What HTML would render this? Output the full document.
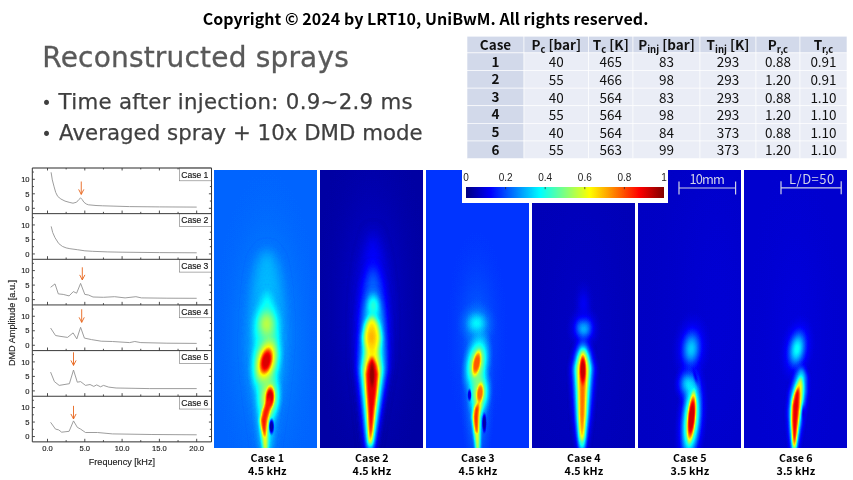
<!DOCTYPE html>
<html><head><meta charset="utf-8"><title>Reconstructed sprays</title>
<style>
html,body{margin:0;padding:0;background:#fff;width:853px;height:480px;overflow:hidden}
svg{display:block;position:absolute;left:0;top:0}
svg{font-family:"Liberation Sans",sans-serif}
.ar{font-family:"Liberation Sans",sans-serif}
.vd{font-family:"DejaVu Sans","Liberation Sans",sans-serif}
.mg{font-family:"Noto Sans CJK KR","Liberation Sans",sans-serif}
</style></head><body>
<svg width="853" height="480" viewBox="0 0 853 480">
<defs><filter id="jet" color-interpolation-filters="sRGB" x="0" y="0" width="100%" height="100%" filterUnits="objectBoundingBox"><feComponentTransfer><feFuncR type="table" tableValues="0 0 0 0 0.5 1 1 1 0.5"/><feFuncG type="table" tableValues="0 0 0.5 1 1 1 0.5 0 0"/><feFuncB type="table" tableValues="0.5 1 1 1 0.5 0 0 0 0"/></feComponentTransfer></filter><filter id="bl1_0" filterUnits="userSpaceOnUse" x="-60" y="-60" width="240" height="420" color-interpolation-filters="sRGB"><feGaussianBlur stdDeviation="1"/></filter><filter id="bl1_1" filterUnits="userSpaceOnUse" x="-60" y="-60" width="240" height="420" color-interpolation-filters="sRGB"><feGaussianBlur stdDeviation="1.1"/></filter><filter id="bl1_2" filterUnits="userSpaceOnUse" x="-60" y="-60" width="240" height="420" color-interpolation-filters="sRGB"><feGaussianBlur stdDeviation="1.2"/></filter><filter id="bl1_4" filterUnits="userSpaceOnUse" x="-60" y="-60" width="240" height="420" color-interpolation-filters="sRGB"><feGaussianBlur stdDeviation="1.4"/></filter><filter id="bl1_6" filterUnits="userSpaceOnUse" x="-60" y="-60" width="240" height="420" color-interpolation-filters="sRGB"><feGaussianBlur stdDeviation="1.6"/></filter><filter id="bl1_8" filterUnits="userSpaceOnUse" x="-60" y="-60" width="240" height="420" color-interpolation-filters="sRGB"><feGaussianBlur stdDeviation="1.8"/></filter><filter id="bl2" filterUnits="userSpaceOnUse" x="-60" y="-60" width="240" height="420" color-interpolation-filters="sRGB"><feGaussianBlur stdDeviation="2"/></filter><filter id="bl2_5" filterUnits="userSpaceOnUse" x="-60" y="-60" width="240" height="420" color-interpolation-filters="sRGB"><feGaussianBlur stdDeviation="2.5"/></filter><filter id="bl2_8" filterUnits="userSpaceOnUse" x="-60" y="-60" width="240" height="420" color-interpolation-filters="sRGB"><feGaussianBlur stdDeviation="2.8"/></filter><filter id="bl3" filterUnits="userSpaceOnUse" x="-60" y="-60" width="240" height="420" color-interpolation-filters="sRGB"><feGaussianBlur stdDeviation="3"/></filter><filter id="bl3_5" filterUnits="userSpaceOnUse" x="-60" y="-60" width="240" height="420" color-interpolation-filters="sRGB"><feGaussianBlur stdDeviation="3.5"/></filter><filter id="bl4_5" filterUnits="userSpaceOnUse" x="-60" y="-60" width="240" height="420" color-interpolation-filters="sRGB"><feGaussianBlur stdDeviation="4.5"/></filter><filter id="bl5_5" filterUnits="userSpaceOnUse" x="-60" y="-60" width="240" height="420" color-interpolation-filters="sRGB"><feGaussianBlur stdDeviation="5.5"/></filter><filter id="bl6" filterUnits="userSpaceOnUse" x="-60" y="-60" width="240" height="420" color-interpolation-filters="sRGB"><feGaussianBlur stdDeviation="6"/></filter><radialGradient id="g0"><stop offset="0" stop-color="#444444" stop-opacity="1"/><stop offset="0.1" stop-color="#444444" stop-opacity="0.96336"/><stop offset="0.2" stop-color="#444444" stop-opacity="0.866732"/><stop offset="0.3" stop-color="#444444" stop-opacity="0.727499"/><stop offset="0.4" stop-color="#444444" stop-opacity="0.568663"/><stop offset="0.5" stop-color="#444444" stop-opacity="0.412534"/><stop offset="0.6" stop-color="#444444" stop-opacity="0.275748"/><stop offset="0.7" stop-color="#444444" stop-opacity="0.16703"/><stop offset="0.8" stop-color="#444444" stop-opacity="0.0877187"/><stop offset="0.9" stop-color="#444444" stop-opacity="0.0340698"/><stop offset="1" stop-color="#444444" stop-opacity="0"/></radialGradient><radialGradient id="g1"><stop offset="0" stop-color="#7a7a7a" stop-opacity="1"/><stop offset="0.1" stop-color="#7a7a7a" stop-opacity="0.96336"/><stop offset="0.2" stop-color="#7a7a7a" stop-opacity="0.866732"/><stop offset="0.3" stop-color="#7a7a7a" stop-opacity="0.727499"/><stop offset="0.4" stop-color="#7a7a7a" stop-opacity="0.568663"/><stop offset="0.5" stop-color="#7a7a7a" stop-opacity="0.412534"/><stop offset="0.6" stop-color="#7a7a7a" stop-opacity="0.275748"/><stop offset="0.7" stop-color="#7a7a7a" stop-opacity="0.16703"/><stop offset="0.8" stop-color="#7a7a7a" stop-opacity="0.0877187"/><stop offset="0.9" stop-color="#7a7a7a" stop-opacity="0.0340698"/><stop offset="1" stop-color="#7a7a7a" stop-opacity="0"/></radialGradient><radialGradient id="g2"><stop offset="0" stop-color="#8e8e8e" stop-opacity="1"/><stop offset="0.1" stop-color="#8e8e8e" stop-opacity="0.96336"/><stop offset="0.2" stop-color="#8e8e8e" stop-opacity="0.866732"/><stop offset="0.3" stop-color="#8e8e8e" stop-opacity="0.727499"/><stop offset="0.4" stop-color="#8e8e8e" stop-opacity="0.568663"/><stop offset="0.5" stop-color="#8e8e8e" stop-opacity="0.412534"/><stop offset="0.6" stop-color="#8e8e8e" stop-opacity="0.275748"/><stop offset="0.7" stop-color="#8e8e8e" stop-opacity="0.16703"/><stop offset="0.8" stop-color="#8e8e8e" stop-opacity="0.0877187"/><stop offset="0.9" stop-color="#8e8e8e" stop-opacity="0.0340698"/><stop offset="1" stop-color="#8e8e8e" stop-opacity="0"/></radialGradient><radialGradient id="g3"><stop offset="0" stop-color="#a8a8a8" stop-opacity="1"/><stop offset="0.1" stop-color="#a8a8a8" stop-opacity="0.96336"/><stop offset="0.2" stop-color="#a8a8a8" stop-opacity="0.866732"/><stop offset="0.3" stop-color="#a8a8a8" stop-opacity="0.727499"/><stop offset="0.4" stop-color="#a8a8a8" stop-opacity="0.568663"/><stop offset="0.5" stop-color="#a8a8a8" stop-opacity="0.412534"/><stop offset="0.6" stop-color="#a8a8a8" stop-opacity="0.275748"/><stop offset="0.7" stop-color="#a8a8a8" stop-opacity="0.16703"/><stop offset="0.8" stop-color="#a8a8a8" stop-opacity="0.0877187"/><stop offset="0.9" stop-color="#a8a8a8" stop-opacity="0.0340698"/><stop offset="1" stop-color="#a8a8a8" stop-opacity="0"/></radialGradient><radialGradient id="g4"><stop offset="0" stop-color="#c7c7c7" stop-opacity="1"/><stop offset="0.1" stop-color="#c7c7c7" stop-opacity="0.96336"/><stop offset="0.2" stop-color="#c7c7c7" stop-opacity="0.866732"/><stop offset="0.3" stop-color="#c7c7c7" stop-opacity="0.727499"/><stop offset="0.4" stop-color="#c7c7c7" stop-opacity="0.568663"/><stop offset="0.5" stop-color="#c7c7c7" stop-opacity="0.412534"/><stop offset="0.6" stop-color="#c7c7c7" stop-opacity="0.275748"/><stop offset="0.7" stop-color="#c7c7c7" stop-opacity="0.16703"/><stop offset="0.8" stop-color="#c7c7c7" stop-opacity="0.0877187"/><stop offset="0.9" stop-color="#c7c7c7" stop-opacity="0.0340698"/><stop offset="1" stop-color="#c7c7c7" stop-opacity="0"/></radialGradient><radialGradient id="f5"><stop offset="0" stop-color="#e8e8e8" stop-opacity="1"/><stop offset="0.35" stop-color="#e8e8e8" stop-opacity="1"/><stop offset="0.5" stop-color="#e8e8e8" stop-opacity="0.85"/><stop offset="0.65" stop-color="#e8e8e8" stop-opacity="0.55"/><stop offset="0.8" stop-color="#e8e8e8" stop-opacity="0.25"/><stop offset="0.9" stop-color="#e8e8e8" stop-opacity="0.09"/><stop offset="1" stop-color="#e8e8e8" stop-opacity="0"/></radialGradient><radialGradient id="f6"><stop offset="0" stop-color="#ebebeb" stop-opacity="1"/><stop offset="0.35" stop-color="#ebebeb" stop-opacity="1"/><stop offset="0.5" stop-color="#ebebeb" stop-opacity="0.85"/><stop offset="0.65" stop-color="#ebebeb" stop-opacity="0.55"/><stop offset="0.8" stop-color="#ebebeb" stop-opacity="0.25"/><stop offset="0.9" stop-color="#ebebeb" stop-opacity="0.09"/><stop offset="1" stop-color="#ebebeb" stop-opacity="0"/></radialGradient><radialGradient id="f7"><stop offset="0" stop-color="#0a0a0a" stop-opacity="1"/><stop offset="0.35" stop-color="#0a0a0a" stop-opacity="1"/><stop offset="0.5" stop-color="#0a0a0a" stop-opacity="0.85"/><stop offset="0.65" stop-color="#0a0a0a" stop-opacity="0.55"/><stop offset="0.8" stop-color="#0a0a0a" stop-opacity="0.25"/><stop offset="0.9" stop-color="#0a0a0a" stop-opacity="0.09"/><stop offset="1" stop-color="#0a0a0a" stop-opacity="0"/></radialGradient><radialGradient id="g8"><stop offset="0" stop-color="#141414" stop-opacity="1"/><stop offset="0.1" stop-color="#141414" stop-opacity="0.96336"/><stop offset="0.2" stop-color="#141414" stop-opacity="0.866732"/><stop offset="0.3" stop-color="#141414" stop-opacity="0.727499"/><stop offset="0.4" stop-color="#141414" stop-opacity="0.568663"/><stop offset="0.5" stop-color="#141414" stop-opacity="0.412534"/><stop offset="0.6" stop-color="#141414" stop-opacity="0.275748"/><stop offset="0.7" stop-color="#141414" stop-opacity="0.16703"/><stop offset="0.8" stop-color="#141414" stop-opacity="0.0877187"/><stop offset="0.9" stop-color="#141414" stop-opacity="0.0340698"/><stop offset="1" stop-color="#141414" stop-opacity="0"/></radialGradient><radialGradient id="g9"><stop offset="0" stop-color="#696969" stop-opacity="1"/><stop offset="0.1" stop-color="#696969" stop-opacity="0.96336"/><stop offset="0.2" stop-color="#696969" stop-opacity="0.866732"/><stop offset="0.3" stop-color="#696969" stop-opacity="0.727499"/><stop offset="0.4" stop-color="#696969" stop-opacity="0.568663"/><stop offset="0.5" stop-color="#696969" stop-opacity="0.412534"/><stop offset="0.6" stop-color="#696969" stop-opacity="0.275748"/><stop offset="0.7" stop-color="#696969" stop-opacity="0.16703"/><stop offset="0.8" stop-color="#696969" stop-opacity="0.0877187"/><stop offset="0.9" stop-color="#696969" stop-opacity="0.0340698"/><stop offset="1" stop-color="#696969" stop-opacity="0"/></radialGradient><radialGradient id="g10"><stop offset="0" stop-color="#b2b2b2" stop-opacity="1"/><stop offset="0.1" stop-color="#b2b2b2" stop-opacity="0.96336"/><stop offset="0.2" stop-color="#b2b2b2" stop-opacity="0.866732"/><stop offset="0.3" stop-color="#b2b2b2" stop-opacity="0.727499"/><stop offset="0.4" stop-color="#b2b2b2" stop-opacity="0.568663"/><stop offset="0.5" stop-color="#b2b2b2" stop-opacity="0.412534"/><stop offset="0.6" stop-color="#b2b2b2" stop-opacity="0.275748"/><stop offset="0.7" stop-color="#b2b2b2" stop-opacity="0.16703"/><stop offset="0.8" stop-color="#b2b2b2" stop-opacity="0.0877187"/><stop offset="0.9" stop-color="#b2b2b2" stop-opacity="0.0340698"/><stop offset="1" stop-color="#b2b2b2" stop-opacity="0"/></radialGradient><radialGradient id="f11"><stop offset="0" stop-color="#fafafa" stop-opacity="1"/><stop offset="0.35" stop-color="#fafafa" stop-opacity="1"/><stop offset="0.5" stop-color="#fafafa" stop-opacity="0.85"/><stop offset="0.65" stop-color="#fafafa" stop-opacity="0.55"/><stop offset="0.8" stop-color="#fafafa" stop-opacity="0.25"/><stop offset="0.9" stop-color="#fafafa" stop-opacity="0.09"/><stop offset="1" stop-color="#fafafa" stop-opacity="0"/></radialGradient><radialGradient id="g12"><stop offset="0" stop-color="#373737" stop-opacity="1"/><stop offset="0.1" stop-color="#373737" stop-opacity="0.96336"/><stop offset="0.2" stop-color="#373737" stop-opacity="0.866732"/><stop offset="0.3" stop-color="#373737" stop-opacity="0.727499"/><stop offset="0.4" stop-color="#373737" stop-opacity="0.568663"/><stop offset="0.5" stop-color="#373737" stop-opacity="0.412534"/><stop offset="0.6" stop-color="#373737" stop-opacity="0.275748"/><stop offset="0.7" stop-color="#373737" stop-opacity="0.16703"/><stop offset="0.8" stop-color="#373737" stop-opacity="0.0877187"/><stop offset="0.9" stop-color="#373737" stop-opacity="0.0340698"/><stop offset="1" stop-color="#373737" stop-opacity="0"/></radialGradient><radialGradient id="g13"><stop offset="0" stop-color="#4c4c4c" stop-opacity="1"/><stop offset="0.1" stop-color="#4c4c4c" stop-opacity="0.96336"/><stop offset="0.2" stop-color="#4c4c4c" stop-opacity="0.866732"/><stop offset="0.3" stop-color="#4c4c4c" stop-opacity="0.727499"/><stop offset="0.4" stop-color="#4c4c4c" stop-opacity="0.568663"/><stop offset="0.5" stop-color="#4c4c4c" stop-opacity="0.412534"/><stop offset="0.6" stop-color="#4c4c4c" stop-opacity="0.275748"/><stop offset="0.7" stop-color="#4c4c4c" stop-opacity="0.16703"/><stop offset="0.8" stop-color="#4c4c4c" stop-opacity="0.0877187"/><stop offset="0.9" stop-color="#4c4c4c" stop-opacity="0.0340698"/><stop offset="1" stop-color="#4c4c4c" stop-opacity="0"/></radialGradient><radialGradient id="g14"><stop offset="0" stop-color="#616161" stop-opacity="1"/><stop offset="0.1" stop-color="#616161" stop-opacity="0.96336"/><stop offset="0.2" stop-color="#616161" stop-opacity="0.866732"/><stop offset="0.3" stop-color="#616161" stop-opacity="0.727499"/><stop offset="0.4" stop-color="#616161" stop-opacity="0.568663"/><stop offset="0.5" stop-color="#616161" stop-opacity="0.412534"/><stop offset="0.6" stop-color="#616161" stop-opacity="0.275748"/><stop offset="0.7" stop-color="#616161" stop-opacity="0.16703"/><stop offset="0.8" stop-color="#616161" stop-opacity="0.0877187"/><stop offset="0.9" stop-color="#616161" stop-opacity="0.0340698"/><stop offset="1" stop-color="#616161" stop-opacity="0"/></radialGradient><radialGradient id="g15"><stop offset="0" stop-color="#4f4f4f" stop-opacity="1"/><stop offset="0.1" stop-color="#4f4f4f" stop-opacity="0.96336"/><stop offset="0.2" stop-color="#4f4f4f" stop-opacity="0.866732"/><stop offset="0.3" stop-color="#4f4f4f" stop-opacity="0.727499"/><stop offset="0.4" stop-color="#4f4f4f" stop-opacity="0.568663"/><stop offset="0.5" stop-color="#4f4f4f" stop-opacity="0.412534"/><stop offset="0.6" stop-color="#4f4f4f" stop-opacity="0.275748"/><stop offset="0.7" stop-color="#4f4f4f" stop-opacity="0.16703"/><stop offset="0.8" stop-color="#4f4f4f" stop-opacity="0.0877187"/><stop offset="0.9" stop-color="#4f4f4f" stop-opacity="0.0340698"/><stop offset="1" stop-color="#4f4f4f" stop-opacity="0"/></radialGradient><radialGradient id="g16"><stop offset="0" stop-color="#9e9e9e" stop-opacity="1"/><stop offset="0.1" stop-color="#9e9e9e" stop-opacity="0.96336"/><stop offset="0.2" stop-color="#9e9e9e" stop-opacity="0.866732"/><stop offset="0.3" stop-color="#9e9e9e" stop-opacity="0.727499"/><stop offset="0.4" stop-color="#9e9e9e" stop-opacity="0.568663"/><stop offset="0.5" stop-color="#9e9e9e" stop-opacity="0.412534"/><stop offset="0.6" stop-color="#9e9e9e" stop-opacity="0.275748"/><stop offset="0.7" stop-color="#9e9e9e" stop-opacity="0.16703"/><stop offset="0.8" stop-color="#9e9e9e" stop-opacity="0.0877187"/><stop offset="0.9" stop-color="#9e9e9e" stop-opacity="0.0340698"/><stop offset="1" stop-color="#9e9e9e" stop-opacity="0"/></radialGradient><radialGradient id="f17"><stop offset="0" stop-color="#c9c9c9" stop-opacity="1"/><stop offset="0.35" stop-color="#c9c9c9" stop-opacity="1"/><stop offset="0.5" stop-color="#c9c9c9" stop-opacity="0.85"/><stop offset="0.65" stop-color="#c9c9c9" stop-opacity="0.55"/><stop offset="0.8" stop-color="#c9c9c9" stop-opacity="0.25"/><stop offset="0.9" stop-color="#c9c9c9" stop-opacity="0.09"/><stop offset="1" stop-color="#c9c9c9" stop-opacity="0"/></radialGradient><radialGradient id="f18"><stop offset="0" stop-color="#c4c4c4" stop-opacity="1"/><stop offset="0.35" stop-color="#c4c4c4" stop-opacity="1"/><stop offset="0.5" stop-color="#c4c4c4" stop-opacity="0.85"/><stop offset="0.65" stop-color="#c4c4c4" stop-opacity="0.55"/><stop offset="0.8" stop-color="#c4c4c4" stop-opacity="0.25"/><stop offset="0.9" stop-color="#c4c4c4" stop-opacity="0.09"/><stop offset="1" stop-color="#c4c4c4" stop-opacity="0"/></radialGradient><radialGradient id="f19"><stop offset="0" stop-color="#171717" stop-opacity="1"/><stop offset="0.35" stop-color="#171717" stop-opacity="1"/><stop offset="0.5" stop-color="#171717" stop-opacity="0.85"/><stop offset="0.65" stop-color="#171717" stop-opacity="0.55"/><stop offset="0.8" stop-color="#171717" stop-opacity="0.25"/><stop offset="0.9" stop-color="#171717" stop-opacity="0.09"/><stop offset="1" stop-color="#171717" stop-opacity="0"/></radialGradient><radialGradient id="g20"><stop offset="0" stop-color="#111111" stop-opacity="1"/><stop offset="0.1" stop-color="#111111" stop-opacity="0.96336"/><stop offset="0.2" stop-color="#111111" stop-opacity="0.866732"/><stop offset="0.3" stop-color="#111111" stop-opacity="0.727499"/><stop offset="0.4" stop-color="#111111" stop-opacity="0.568663"/><stop offset="0.5" stop-color="#111111" stop-opacity="0.412534"/><stop offset="0.6" stop-color="#111111" stop-opacity="0.275748"/><stop offset="0.7" stop-color="#111111" stop-opacity="0.16703"/><stop offset="0.8" stop-color="#111111" stop-opacity="0.0877187"/><stop offset="0.9" stop-color="#111111" stop-opacity="0.0340698"/><stop offset="1" stop-color="#111111" stop-opacity="0"/></radialGradient><radialGradient id="g21"><stop offset="0" stop-color="#333333" stop-opacity="1"/><stop offset="0.1" stop-color="#333333" stop-opacity="0.96336"/><stop offset="0.2" stop-color="#333333" stop-opacity="0.866732"/><stop offset="0.3" stop-color="#333333" stop-opacity="0.727499"/><stop offset="0.4" stop-color="#333333" stop-opacity="0.568663"/><stop offset="0.5" stop-color="#333333" stop-opacity="0.412534"/><stop offset="0.6" stop-color="#333333" stop-opacity="0.275748"/><stop offset="0.7" stop-color="#333333" stop-opacity="0.16703"/><stop offset="0.8" stop-color="#333333" stop-opacity="0.0877187"/><stop offset="0.9" stop-color="#333333" stop-opacity="0.0340698"/><stop offset="1" stop-color="#333333" stop-opacity="0"/></radialGradient><radialGradient id="g22"><stop offset="0" stop-color="#1d1d1d" stop-opacity="1"/><stop offset="0.1" stop-color="#1d1d1d" stop-opacity="0.96336"/><stop offset="0.2" stop-color="#1d1d1d" stop-opacity="0.866732"/><stop offset="0.3" stop-color="#1d1d1d" stop-opacity="0.727499"/><stop offset="0.4" stop-color="#1d1d1d" stop-opacity="0.568663"/><stop offset="0.5" stop-color="#1d1d1d" stop-opacity="0.412534"/><stop offset="0.6" stop-color="#1d1d1d" stop-opacity="0.275748"/><stop offset="0.7" stop-color="#1d1d1d" stop-opacity="0.16703"/><stop offset="0.8" stop-color="#1d1d1d" stop-opacity="0.0877187"/><stop offset="0.9" stop-color="#1d1d1d" stop-opacity="0.0340698"/><stop offset="1" stop-color="#1d1d1d" stop-opacity="0"/></radialGradient><radialGradient id="f23"><stop offset="0" stop-color="#ededed" stop-opacity="1"/><stop offset="0.35" stop-color="#ededed" stop-opacity="1"/><stop offset="0.5" stop-color="#ededed" stop-opacity="0.85"/><stop offset="0.65" stop-color="#ededed" stop-opacity="0.55"/><stop offset="0.8" stop-color="#ededed" stop-opacity="0.25"/><stop offset="0.9" stop-color="#ededed" stop-opacity="0.09"/><stop offset="1" stop-color="#ededed" stop-opacity="0"/></radialGradient><radialGradient id="g24"><stop offset="0" stop-color="#151515" stop-opacity="1"/><stop offset="0.1" stop-color="#151515" stop-opacity="0.96336"/><stop offset="0.2" stop-color="#151515" stop-opacity="0.866732"/><stop offset="0.3" stop-color="#151515" stop-opacity="0.727499"/><stop offset="0.4" stop-color="#151515" stop-opacity="0.568663"/><stop offset="0.5" stop-color="#151515" stop-opacity="0.412534"/><stop offset="0.6" stop-color="#151515" stop-opacity="0.275748"/><stop offset="0.7" stop-color="#151515" stop-opacity="0.16703"/><stop offset="0.8" stop-color="#151515" stop-opacity="0.0877187"/><stop offset="0.9" stop-color="#151515" stop-opacity="0.0340698"/><stop offset="1" stop-color="#151515" stop-opacity="0"/></radialGradient><radialGradient id="g25"><stop offset="0" stop-color="#535353" stop-opacity="1"/><stop offset="0.1" stop-color="#535353" stop-opacity="0.96336"/><stop offset="0.2" stop-color="#535353" stop-opacity="0.866732"/><stop offset="0.3" stop-color="#535353" stop-opacity="0.727499"/><stop offset="0.4" stop-color="#535353" stop-opacity="0.568663"/><stop offset="0.5" stop-color="#535353" stop-opacity="0.412534"/><stop offset="0.6" stop-color="#535353" stop-opacity="0.275748"/><stop offset="0.7" stop-color="#535353" stop-opacity="0.16703"/><stop offset="0.8" stop-color="#535353" stop-opacity="0.0877187"/><stop offset="0.9" stop-color="#535353" stop-opacity="0.0340698"/><stop offset="1" stop-color="#535353" stop-opacity="0"/></radialGradient><radialGradient id="g26"><stop offset="0" stop-color="#545454" stop-opacity="1"/><stop offset="0.1" stop-color="#545454" stop-opacity="0.96336"/><stop offset="0.2" stop-color="#545454" stop-opacity="0.866732"/><stop offset="0.3" stop-color="#545454" stop-opacity="0.727499"/><stop offset="0.4" stop-color="#545454" stop-opacity="0.568663"/><stop offset="0.5" stop-color="#545454" stop-opacity="0.412534"/><stop offset="0.6" stop-color="#545454" stop-opacity="0.275748"/><stop offset="0.7" stop-color="#545454" stop-opacity="0.16703"/><stop offset="0.8" stop-color="#545454" stop-opacity="0.0877187"/><stop offset="0.9" stop-color="#545454" stop-opacity="0.0340698"/><stop offset="1" stop-color="#545454" stop-opacity="0"/></radialGradient><radialGradient id="g27"><stop offset="0" stop-color="#5c5c5c" stop-opacity="1"/><stop offset="0.1" stop-color="#5c5c5c" stop-opacity="0.96336"/><stop offset="0.2" stop-color="#5c5c5c" stop-opacity="0.866732"/><stop offset="0.3" stop-color="#5c5c5c" stop-opacity="0.727499"/><stop offset="0.4" stop-color="#5c5c5c" stop-opacity="0.568663"/><stop offset="0.5" stop-color="#5c5c5c" stop-opacity="0.412534"/><stop offset="0.6" stop-color="#5c5c5c" stop-opacity="0.275748"/><stop offset="0.7" stop-color="#5c5c5c" stop-opacity="0.16703"/><stop offset="0.8" stop-color="#5c5c5c" stop-opacity="0.0877187"/><stop offset="0.9" stop-color="#5c5c5c" stop-opacity="0.0340698"/><stop offset="1" stop-color="#5c5c5c" stop-opacity="0"/></radialGradient><radialGradient id="g28"><stop offset="0" stop-color="#a3a3a3" stop-opacity="1"/><stop offset="0.1" stop-color="#a3a3a3" stop-opacity="0.96336"/><stop offset="0.2" stop-color="#a3a3a3" stop-opacity="0.866732"/><stop offset="0.3" stop-color="#a3a3a3" stop-opacity="0.727499"/><stop offset="0.4" stop-color="#a3a3a3" stop-opacity="0.568663"/><stop offset="0.5" stop-color="#a3a3a3" stop-opacity="0.412534"/><stop offset="0.6" stop-color="#a3a3a3" stop-opacity="0.275748"/><stop offset="0.7" stop-color="#a3a3a3" stop-opacity="0.16703"/><stop offset="0.8" stop-color="#a3a3a3" stop-opacity="0.0877187"/><stop offset="0.9" stop-color="#a3a3a3" stop-opacity="0.0340698"/><stop offset="1" stop-color="#a3a3a3" stop-opacity="0"/></radialGradient><radialGradient id="g29"><stop offset="0" stop-color="#080808" stop-opacity="1"/><stop offset="0.1" stop-color="#080808" stop-opacity="0.96336"/><stop offset="0.2" stop-color="#080808" stop-opacity="0.866732"/><stop offset="0.3" stop-color="#080808" stop-opacity="0.727499"/><stop offset="0.4" stop-color="#080808" stop-opacity="0.568663"/><stop offset="0.5" stop-color="#080808" stop-opacity="0.412534"/><stop offset="0.6" stop-color="#080808" stop-opacity="0.275748"/><stop offset="0.7" stop-color="#080808" stop-opacity="0.16703"/><stop offset="0.8" stop-color="#080808" stop-opacity="0.0877187"/><stop offset="0.9" stop-color="#080808" stop-opacity="0.0340698"/><stop offset="1" stop-color="#080808" stop-opacity="0"/></radialGradient><radialGradient id="g30"><stop offset="0" stop-color="#171717" stop-opacity="1"/><stop offset="0.1" stop-color="#171717" stop-opacity="0.96336"/><stop offset="0.2" stop-color="#171717" stop-opacity="0.866732"/><stop offset="0.3" stop-color="#171717" stop-opacity="0.727499"/><stop offset="0.4" stop-color="#171717" stop-opacity="0.568663"/><stop offset="0.5" stop-color="#171717" stop-opacity="0.412534"/><stop offset="0.6" stop-color="#171717" stop-opacity="0.275748"/><stop offset="0.7" stop-color="#171717" stop-opacity="0.16703"/><stop offset="0.8" stop-color="#171717" stop-opacity="0.0877187"/><stop offset="0.9" stop-color="#171717" stop-opacity="0.0340698"/><stop offset="1" stop-color="#171717" stop-opacity="0"/></radialGradient><radialGradient id="g31"><stop offset="0" stop-color="#383838" stop-opacity="1"/><stop offset="0.1" stop-color="#383838" stop-opacity="0.96336"/><stop offset="0.2" stop-color="#383838" stop-opacity="0.866732"/><stop offset="0.3" stop-color="#383838" stop-opacity="0.727499"/><stop offset="0.4" stop-color="#383838" stop-opacity="0.568663"/><stop offset="0.5" stop-color="#383838" stop-opacity="0.412534"/><stop offset="0.6" stop-color="#383838" stop-opacity="0.275748"/><stop offset="0.7" stop-color="#383838" stop-opacity="0.16703"/><stop offset="0.8" stop-color="#383838" stop-opacity="0.0877187"/><stop offset="0.9" stop-color="#383838" stop-opacity="0.0340698"/><stop offset="1" stop-color="#383838" stop-opacity="0"/></radialGradient><radialGradient id="g32"><stop offset="0" stop-color="#626262" stop-opacity="1"/><stop offset="0.1" stop-color="#626262" stop-opacity="0.96336"/><stop offset="0.2" stop-color="#626262" stop-opacity="0.866732"/><stop offset="0.3" stop-color="#626262" stop-opacity="0.727499"/><stop offset="0.4" stop-color="#626262" stop-opacity="0.568663"/><stop offset="0.5" stop-color="#626262" stop-opacity="0.412534"/><stop offset="0.6" stop-color="#626262" stop-opacity="0.275748"/><stop offset="0.7" stop-color="#626262" stop-opacity="0.16703"/><stop offset="0.8" stop-color="#626262" stop-opacity="0.0877187"/><stop offset="0.9" stop-color="#626262" stop-opacity="0.0340698"/><stop offset="1" stop-color="#626262" stop-opacity="0"/></radialGradient><radialGradient id="g33"><stop offset="0" stop-color="#0a0a0a" stop-opacity="1"/><stop offset="0.1" stop-color="#0a0a0a" stop-opacity="0.96336"/><stop offset="0.2" stop-color="#0a0a0a" stop-opacity="0.866732"/><stop offset="0.3" stop-color="#0a0a0a" stop-opacity="0.727499"/><stop offset="0.4" stop-color="#0a0a0a" stop-opacity="0.568663"/><stop offset="0.5" stop-color="#0a0a0a" stop-opacity="0.412534"/><stop offset="0.6" stop-color="#0a0a0a" stop-opacity="0.275748"/><stop offset="0.7" stop-color="#0a0a0a" stop-opacity="0.16703"/><stop offset="0.8" stop-color="#0a0a0a" stop-opacity="0.0877187"/><stop offset="0.9" stop-color="#0a0a0a" stop-opacity="0.0340698"/><stop offset="1" stop-color="#0a0a0a" stop-opacity="0"/></radialGradient><clipPath id="cp1"><rect x="214" y="170" width="103" height="278"/></clipPath><clipPath id="cp2"><rect x="320" y="170" width="103" height="278"/></clipPath><clipPath id="cp3"><rect x="426" y="170" width="103" height="278"/></clipPath><clipPath id="cp4"><rect x="532" y="170" width="103" height="278"/></clipPath><clipPath id="cp5"><rect x="638" y="170" width="103" height="278"/></clipPath><clipPath id="cp6"><rect x="744" y="170" width="103" height="278"/></clipPath><linearGradient id="cb" x1="0" x2="1" y1="0" y2="0"><stop offset="0" stop-color="#000"/><stop offset="1" stop-color="#fff"/></linearGradient></defs>
<g filter="url(#jet)" clip-path="url(#cp1)"><rect x="209" y="165" width="113" height="288" fill="#393939"/><ellipse cx="267" cy="335" rx="53.0" ry="165.8" fill="url(#g0)"/><path transform="translate(214 170)" d="M53.0 78.0 L44.0 90.0 L40.0 110.0 L37.5 140.0 L36.0 172.0 L37.0 200.0 L40.0 225.0 L43.5 250.0 L46.5 270.0 L48.5 284.0 L55.5 284.0 L57.5 270.0 L60.5 250.0 L64.0 225.0 L67.0 200.0 L69.0 172.0 L68.5 140.0 L66.0 110.0 L62.0 90.0 L53.0 78.0Z" fill="#4e4e4e" filter="url(#bl5_5)"/><path transform="translate(214 170)" d="M53.0 120.0 L48.5 130.0 L45.5 143.0 L42.0 160.0 L40.0 185.0 L41.0 210.0 L44.0 232.0 L46.0 255.0 L48.0 272.0 L49.5 284.0 L54.5 284.0 L56.0 272.0 L58.0 255.0 L62.0 232.0 L63.0 210.0 L64.0 185.0 L63.0 160.0 L60.5 143.0 L57.5 130.0 L53.0 120.0Z" fill="#626262" filter="url(#bl3)"/><ellipse cx="266.6" cy="325" rx="18.8" ry="27.6" fill="url(#g1)"/><ellipse cx="266.6" cy="324" rx="11.1" ry="17.7" fill="url(#g2)"/><ellipse cx="266.2" cy="361" rx="17.7" ry="35.4" fill="url(#g3)" transform="rotate(12 266.2 361)"/><ellipse cx="266.2" cy="361" rx="12.2" ry="26.5" fill="url(#g4)" transform="rotate(12 266.2 361)"/><ellipse cx="266.2" cy="361" rx="6.9" ry="15.0" fill="url(#f5)" transform="rotate(12 266.2 361)"/><ellipse cx="269" cy="398" rx="14.4" ry="28.7" fill="url(#g3)" transform="rotate(3 269 398)"/><path transform="translate(214 170)" d="M54.0 232.0 L48.0 240.0 L45.8 250.0 L47.3 262.0 L48.8 272.0 L50.1 282.0 L53.1 282.0 L53.6 272.0 L53.7 262.0 L54.8 250.0 L57.0 240.0 L54.0 232.0Z" fill="#9e9e9e" filter="url(#bl1_8)"/><ellipse cx="270" cy="397.5" rx="5.7" ry="14.2" fill="url(#f6)" transform="rotate(3 270 397.5)"/><path transform="translate(214 170)" d="M55.5 226.0 L51.5 233.0 L49.1 241.0 L47.0 250.0 L47.8 257.0 L49.4 263.0 L50.6 267.0 L51.2 267.0 L51.6 263.0 L52.2 257.0 L53.0 250.0 L55.5 241.0 L57.5 233.0 L55.5 226.0Z" fill="#d9d9d9" filter="url(#bl1_1)"/><ellipse cx="271.5" cy="426.5" rx="3.2" ry="9.8" fill="url(#f7)"/></g>
<g filter="url(#jet)" clip-path="url(#cp2)"><rect x="315" y="165" width="113" height="288" fill="#090909"/><ellipse cx="372" cy="305" rx="57.5" ry="187.8" fill="url(#g8)"/><path transform="translate(320 170)" d="M53.0 58.0 L45.0 85.0 L40.5 115.0 L38.5 150.0 L38.5 190.0 L43.5 230.0 L46.5 260.0 L49.0 282.0 L51.0 282.0 L54.5 260.0 L59.5 230.0 L66.5 190.0 L67.5 150.0 L65.5 115.0 L61.0 85.0 L53.0 58.0Z" fill="#222222" filter="url(#bl6)"/><path transform="translate(320 170)" d="M53.0 94.0 L46.5 112.0 L42.5 135.0 L40.5 165.0 L39.5 198.0 L43.5 230.0 L46.5 260.0 L49.0 282.0 L51.0 282.0 L54.5 260.0 L59.5 230.0 L65.5 198.0 L65.5 165.0 L63.5 135.0 L59.5 112.0 L53.0 94.0Z" fill="#3b3b3b" filter="url(#bl4_5)"/><path transform="translate(320 170)" d="M53.0 121.0 L47.5 133.0 L45.0 150.0 L43.0 170.0 L40.5 200.0 L44.0 235.0 L47.0 265.0 L49.0 282.0 L51.0 282.0 L54.0 265.0 L59.0 235.0 L64.5 200.0 L63.0 170.0 L61.0 150.0 L58.5 133.0 L53.0 121.0Z" fill="#5c5c5c" filter="url(#bl3_5)"/><ellipse cx="373.3" cy="306" rx="8.8" ry="15.5" fill="url(#g9)"/><path transform="translate(320 170)" d="M52.0 145.0 L46.0 154.0 L43.5 167.0 L45.5 182.0 L43.0 200.0 L45.0 225.0 L47.0 250.0 L48.5 270.0 L49.5 281.0 L50.5 281.0 L52.5 270.0 L55.0 250.0 L58.0 225.0 L61.0 200.0 L58.5 182.0 L60.5 167.0 L58.0 154.0 L52.0 145.0Z" fill="#a3a3a3" filter="url(#bl2_5)"/><ellipse cx="371.7" cy="337" rx="8.4" ry="18.8" fill="url(#g10)"/><path transform="translate(320 170)" d="M52.0 186.0 L48.0 194.0 L46.0 204.0 L46.7 220.0 L48.1 240.0 L49.0 260.0 L49.8 274.0 L50.6 274.0 L52.4 260.0 L54.3 240.0 L56.7 220.0 L58.0 204.0 L56.0 194.0 L52.0 186.0Z" fill="#e6e6e6" filter="url(#bl1_6)"/><ellipse cx="372" cy="375" rx="3.2" ry="15.8" fill="url(#f11)"/></g>
<g filter="url(#jet)" clip-path="url(#cp3)"><rect x="421" y="165" width="113" height="288" fill="#2d2d2d"/><ellipse cx="477" cy="335" rx="30.9" ry="106.1" fill="url(#g12)"/><ellipse cx="476.7" cy="323.5" rx="21.0" ry="23.2" fill="url(#g13)"/><ellipse cx="476.7" cy="323.5" rx="12.2" ry="13.3" fill="url(#g14)"/><ellipse cx="477.5" cy="388" rx="17.7" ry="92.8" fill="url(#g15)"/><ellipse cx="476.7" cy="363.3" rx="15.5" ry="35.4" fill="url(#g16)" transform="rotate(10 476.7 363.3)"/><ellipse cx="476.7" cy="363.3" rx="4.9" ry="15.8" fill="url(#f17)" transform="rotate(10 476.7 363.3)"/><ellipse cx="479.6" cy="394" rx="13.3" ry="28.7" fill="url(#g16)" transform="rotate(5 479.6 394)"/><path transform="translate(426 170)" d="M54.0 228.0 L48.4 236.0 L46.4 247.0 L47.8 260.0 L49.3 272.0 L50.3 283.0 L53.3 283.0 L53.7 272.0 L53.8 260.0 L54.0 247.0 L55.6 236.0 L54.0 228.0Z" fill="#9e9e9e" filter="url(#bl1_6)"/><ellipse cx="480" cy="393.3" rx="4.3" ry="12.8" fill="url(#f18)" transform="rotate(5 480 393.3)"/><path transform="translate(426 170)" d="M52.5 232.0 L48.8 239.0 L47.8 247.0 L48.6 256.0 L50.0 263.0 L51.6 263.0 L52.0 256.0 L52.2 247.0 L52.8 239.0 L52.5 232.0Z" fill="#d6d6d6" filter="url(#bl1_0)"/><ellipse cx="469.5" cy="395" rx="2.4" ry="7.5" fill="url(#f19)"/><ellipse cx="484.3" cy="423" rx="2.7" ry="12.0" fill="url(#f7)"/></g>
<g filter="url(#jet)" clip-path="url(#cp4)"><rect x="527" y="165" width="113" height="288" fill="#0e0e0e"/><ellipse cx="584" cy="330" rx="66.3" ry="221.0" fill="url(#g20)"/><ellipse cx="583.7" cy="328.3" rx="17.7" ry="24.3" fill="url(#g21)"/><ellipse cx="583.7" cy="328.3" rx="11.1" ry="14.4" fill="url(#g13)"/><ellipse cx="583.5" cy="304" rx="11.1" ry="26.5" fill="url(#g22)"/><path transform="translate(532 170)" d="M51.0 170.0 L45.0 180.0 L41.0 198.0 L42.7 225.0 L44.3 250.0 L46.5 270.0 L49.0 283.0 L51.0 283.0 L53.5 270.0 L56.3 250.0 L58.7 225.0 L61.0 198.0 L57.0 180.0 L51.0 170.0Z" fill="#5c5c5c" filter="url(#bl3)"/><path transform="translate(532 170)" d="M51.0 178.0 L47.0 186.0 L44.3 198.0 L45.5 220.0 L46.2 245.0 L47.5 265.0 L49.5 281.0 L50.5 281.0 L52.5 265.0 L54.2 245.0 L55.5 220.0 L57.3 198.0 L55.0 186.0 L51.0 178.0Z" fill="#a3a3a3" filter="url(#bl2)"/><path transform="translate(532 170)" d="M51.0 186.0 L48.4 194.0 L47.4 204.0 L47.9 222.0 L48.0 245.0 L48.8 262.0 L49.7 270.0 L50.3 270.0 L51.2 262.0 L52.4 245.0 L53.1 222.0 L54.2 204.0 L53.6 194.0 L51.0 186.0Z" fill="#c7c7c7" filter="url(#bl1_4)"/><ellipse cx="582.8" cy="370" rx="3.9" ry="18.0" fill="url(#f23)"/></g>
<g filter="url(#jet)" clip-path="url(#cp5)"><rect x="633" y="165" width="113" height="288" fill="#111111"/><ellipse cx="718" cy="310" rx="88.4" ry="331.5" fill="url(#g24)"/><ellipse cx="691.3" cy="348" rx="19.9" ry="37.6" fill="url(#g21)" transform="rotate(4 691.3 348)"/><ellipse cx="691.3" cy="349" rx="12.2" ry="23.2" fill="url(#g25)" transform="rotate(4 691.3 349)"/><ellipse cx="687.5" cy="384" rx="14.4" ry="21.0" fill="url(#g26)"/><ellipse cx="691.2" cy="420" rx="16.6" ry="59.7" fill="url(#g27)" transform="rotate(5 691.2 420)"/><ellipse cx="691.4" cy="419" rx="11.5" ry="50.8" fill="url(#g28)" transform="rotate(5 691.4 419)"/><ellipse cx="691.6" cy="417" rx="4.9" ry="30.0" fill="url(#f6)" transform="rotate(5 691.6 417)"/><ellipse cx="695.5" cy="377" rx="3.3" ry="13.3" fill="url(#g29)" opacity="0.5" transform="rotate(-15 695.5 377)"/></g>
<g filter="url(#jet)" clip-path="url(#cp6)"><rect x="739" y="165" width="113" height="288" fill="#141414"/><ellipse cx="796" cy="330" rx="48.6" ry="176.8" fill="url(#g30)"/><ellipse cx="797" cy="349" rx="17.7" ry="35.4" fill="url(#g31)" transform="rotate(9 797 349)"/><ellipse cx="797" cy="349" rx="11.1" ry="23.2" fill="url(#g32)" transform="rotate(9 797 349)"/><path transform="translate(744 170)" d="M57.5 196.0 L52.0 206.0 L47.0 222.0 L45.2 242.0 L46.3 262.0 L48.7 284.0 L51.7 284.0 L55.3 262.0 L58.8 242.0 L62.0 222.0 L62.0 206.0 L57.5 196.0Z" fill="#5e5e5e" filter="url(#bl2_8)"/><path transform="translate(744 170)" d="M57.0 206.0 L52.3 216.0 L48.0 230.0 L47.1 248.0 L48.0 266.0 L49.4 282.0 L51.0 282.0 L53.2 266.0 L55.5 248.0 L58.0 230.0 L58.7 216.0 L57.0 206.0Z" fill="#a3a3a3" filter="url(#bl1_8)"/><path transform="translate(744 170)" d="M54.5 216.0 L51.1 224.0 L48.6 236.0 L48.3 252.0 L49.2 268.0 L50.0 276.0 L50.6 276.0 L51.8 268.0 L53.5 252.0 L55.0 236.0 L55.5 224.0 L54.5 216.0Z" fill="#e6e6e6" filter="url(#bl1_2)"/><ellipse cx="803.5" cy="413" rx="3.3" ry="13.3" fill="url(#g33)" opacity="0.6"/></g>
<rect x="462" y="169" width="206" height="34" fill="#fff"/><g filter="url(#jet)"><rect x="466" y="187" width="198" height="11" fill="url(#cb)"/></g><text x="466" y="181" font-size="10" text-anchor="middle" fill="#222" class="ar">0</text><text x="505.6" y="181" font-size="10" text-anchor="middle" fill="#222" class="ar">0.2</text><text x="545.2" y="181" font-size="10" text-anchor="middle" fill="#222" class="ar">0.4</text><text x="584.8" y="181" font-size="10" text-anchor="middle" fill="#222" class="ar">0.6</text><text x="624.4" y="181" font-size="10" text-anchor="middle" fill="#222" class="ar">0.8</text><text x="664" y="181" font-size="10" text-anchor="middle" fill="#222" class="ar">1</text><path d="M505.6 187v2.2 M545.2 187v2.2 M584.8 187v2.2 M624.4 187v2.2" stroke="#222" stroke-width="0.7" fill="none"/><text x="425.5" y="25.3" font-size="16" font-weight="bold" text-anchor="middle" fill="#000" class="mg" textLength="445.7" lengthAdjust="spacing">Copyright © 2024 by LRT10, UniBwM. All rights reserved.</text>
<text x="42.3" y="67" font-size="28" fill="#595959" stroke="#595959" stroke-width="0.3" class="vd" textLength="306.5" lengthAdjust="spacing">Reconstructed sprays</text>
<text x="41.4" y="108.6" font-size="17" fill="#3f3f3f" class="vd">•</text><text x="58.6" y="108.8" font-size="21.3" fill="#3f3f3f" stroke="#3f3f3f" stroke-width="0.25" class="vd" textLength="354" lengthAdjust="spacing">Time after injection: 0.9~2.9 ms</text>
<text x="41.4" y="139.9" font-size="17" fill="#3f3f3f" class="vd">•</text><text x="59.1" y="140" font-size="21.3" fill="#3f3f3f" stroke="#3f3f3f" stroke-width="0.25" class="vd" textLength="363.5" lengthAdjust="spacing">Averaged spray + 10x DMD mode</text>
<g class="mg" font-size="13.5" text-anchor="middle" fill="#111"><rect x="467" y="36.20" width="57" height="16.7" fill="#d2d9ea" stroke="#fff" stroke-width="0.6"/><rect x="524" y="36.20" width="64.5" height="16.7" fill="#d2d9ea" stroke="#fff" stroke-width="0.6"/><rect x="588.5" y="36.20" width="44.5" height="16.7" fill="#d2d9ea" stroke="#fff" stroke-width="0.6"/><rect x="633" y="36.20" width="67" height="16.7" fill="#d2d9ea" stroke="#fff" stroke-width="0.6"/><rect x="700" y="36.20" width="56" height="16.7" fill="#d2d9ea" stroke="#fff" stroke-width="0.6"/><rect x="756" y="36.20" width="44" height="16.7" fill="#d2d9ea" stroke="#fff" stroke-width="0.6"/><rect x="800" y="36.20" width="47" height="16.7" fill="#d2d9ea" stroke="#fff" stroke-width="0.6"/><rect x="467" y="52.90" width="57" height="17.62" fill="#d2d9ea" stroke="#fff" stroke-width="0.6"/><rect x="524" y="52.90" width="64.5" height="17.62" fill="#eaedf6" stroke="#fff" stroke-width="0.6"/><rect x="588.5" y="52.90" width="44.5" height="17.62" fill="#eaedf6" stroke="#fff" stroke-width="0.6"/><rect x="633" y="52.90" width="67" height="17.62" fill="#eaedf6" stroke="#fff" stroke-width="0.6"/><rect x="700" y="52.90" width="56" height="17.62" fill="#eaedf6" stroke="#fff" stroke-width="0.6"/><rect x="756" y="52.90" width="44" height="17.62" fill="#eaedf6" stroke="#fff" stroke-width="0.6"/><rect x="800" y="52.90" width="47" height="17.62" fill="#eaedf6" stroke="#fff" stroke-width="0.6"/><rect x="467" y="70.52" width="57" height="17.62" fill="#d2d9ea" stroke="#fff" stroke-width="0.6"/><rect x="524" y="70.52" width="64.5" height="17.62" fill="#eaedf6" stroke="#fff" stroke-width="0.6"/><rect x="588.5" y="70.52" width="44.5" height="17.62" fill="#eaedf6" stroke="#fff" stroke-width="0.6"/><rect x="633" y="70.52" width="67" height="17.62" fill="#eaedf6" stroke="#fff" stroke-width="0.6"/><rect x="700" y="70.52" width="56" height="17.62" fill="#eaedf6" stroke="#fff" stroke-width="0.6"/><rect x="756" y="70.52" width="44" height="17.62" fill="#eaedf6" stroke="#fff" stroke-width="0.6"/><rect x="800" y="70.52" width="47" height="17.62" fill="#eaedf6" stroke="#fff" stroke-width="0.6"/><rect x="467" y="88.14" width="57" height="17.62" fill="#d2d9ea" stroke="#fff" stroke-width="0.6"/><rect x="524" y="88.14" width="64.5" height="17.62" fill="#eaedf6" stroke="#fff" stroke-width="0.6"/><rect x="588.5" y="88.14" width="44.5" height="17.62" fill="#eaedf6" stroke="#fff" stroke-width="0.6"/><rect x="633" y="88.14" width="67" height="17.62" fill="#eaedf6" stroke="#fff" stroke-width="0.6"/><rect x="700" y="88.14" width="56" height="17.62" fill="#eaedf6" stroke="#fff" stroke-width="0.6"/><rect x="756" y="88.14" width="44" height="17.62" fill="#eaedf6" stroke="#fff" stroke-width="0.6"/><rect x="800" y="88.14" width="47" height="17.62" fill="#eaedf6" stroke="#fff" stroke-width="0.6"/><rect x="467" y="105.76" width="57" height="17.62" fill="#d2d9ea" stroke="#fff" stroke-width="0.6"/><rect x="524" y="105.76" width="64.5" height="17.62" fill="#eaedf6" stroke="#fff" stroke-width="0.6"/><rect x="588.5" y="105.76" width="44.5" height="17.62" fill="#eaedf6" stroke="#fff" stroke-width="0.6"/><rect x="633" y="105.76" width="67" height="17.62" fill="#eaedf6" stroke="#fff" stroke-width="0.6"/><rect x="700" y="105.76" width="56" height="17.62" fill="#eaedf6" stroke="#fff" stroke-width="0.6"/><rect x="756" y="105.76" width="44" height="17.62" fill="#eaedf6" stroke="#fff" stroke-width="0.6"/><rect x="800" y="105.76" width="47" height="17.62" fill="#eaedf6" stroke="#fff" stroke-width="0.6"/><rect x="467" y="123.38" width="57" height="17.62" fill="#d2d9ea" stroke="#fff" stroke-width="0.6"/><rect x="524" y="123.38" width="64.5" height="17.62" fill="#eaedf6" stroke="#fff" stroke-width="0.6"/><rect x="588.5" y="123.38" width="44.5" height="17.62" fill="#eaedf6" stroke="#fff" stroke-width="0.6"/><rect x="633" y="123.38" width="67" height="17.62" fill="#eaedf6" stroke="#fff" stroke-width="0.6"/><rect x="700" y="123.38" width="56" height="17.62" fill="#eaedf6" stroke="#fff" stroke-width="0.6"/><rect x="756" y="123.38" width="44" height="17.62" fill="#eaedf6" stroke="#fff" stroke-width="0.6"/><rect x="800" y="123.38" width="47" height="17.62" fill="#eaedf6" stroke="#fff" stroke-width="0.6"/><rect x="467" y="141.00" width="57" height="17.62" fill="#d2d9ea" stroke="#fff" stroke-width="0.6"/><rect x="524" y="141.00" width="64.5" height="17.62" fill="#eaedf6" stroke="#fff" stroke-width="0.6"/><rect x="588.5" y="141.00" width="44.5" height="17.62" fill="#eaedf6" stroke="#fff" stroke-width="0.6"/><rect x="633" y="141.00" width="67" height="17.62" fill="#eaedf6" stroke="#fff" stroke-width="0.6"/><rect x="700" y="141.00" width="56" height="17.62" fill="#eaedf6" stroke="#fff" stroke-width="0.6"/><rect x="756" y="141.00" width="44" height="17.62" fill="#eaedf6" stroke="#fff" stroke-width="0.6"/><rect x="800" y="141.00" width="47" height="17.62" fill="#eaedf6" stroke="#fff" stroke-width="0.6"/><text x="495.5" y="50" font-weight="bold">Case</text><text x="556.25" y="50" font-weight="bold">P<tspan font-size="9.5" dy="2.6">c</tspan><tspan dy="-2.6"> [bar]</tspan></text><text x="610.75" y="50" font-weight="bold">T<tspan font-size="9.5" dy="2.6">c</tspan><tspan dy="-2.6"> [K]</tspan></text><text x="666.5" y="50" font-weight="bold">P<tspan font-size="9.5" dy="2.6">inj</tspan><tspan dy="-2.6"> [bar]</tspan></text><text x="728" y="50" font-weight="bold">T<tspan font-size="9.5" dy="2.6">inj</tspan><tspan dy="-2.6"> [K]</tspan></text><text x="778" y="50" font-weight="bold">P<tspan font-size="9.5" dy="2.6">r,c</tspan><tspan dy="-2.6"></tspan></text><text x="823.5" y="50" font-weight="bold">T<tspan font-size="9.5" dy="2.6">r,c</tspan><tspan dy="-2.6"></tspan></text><text x="495.5" y="66.60" font-weight="bold">1</text><text x="556.25" y="67.30">40</text><text x="610.75" y="67.30">465</text><text x="666.5" y="67.30">83</text><text x="728" y="67.30">293</text><text x="778" y="67.30">0.88</text><text x="823.5" y="67.30">0.91</text><text x="495.5" y="84.22" font-weight="bold">2</text><text x="556.25" y="84.92">55</text><text x="610.75" y="84.92">466</text><text x="666.5" y="84.92">98</text><text x="728" y="84.92">293</text><text x="778" y="84.92">1.20</text><text x="823.5" y="84.92">0.91</text><text x="495.5" y="101.84" font-weight="bold">3</text><text x="556.25" y="102.54">40</text><text x="610.75" y="102.54">564</text><text x="666.5" y="102.54">83</text><text x="728" y="102.54">293</text><text x="778" y="102.54">0.88</text><text x="823.5" y="102.54">1.10</text><text x="495.5" y="119.46" font-weight="bold">4</text><text x="556.25" y="120.16">55</text><text x="610.75" y="120.16">564</text><text x="666.5" y="120.16">98</text><text x="728" y="120.16">293</text><text x="778" y="120.16">1.20</text><text x="823.5" y="120.16">1.10</text><text x="495.5" y="137.08" font-weight="bold">5</text><text x="556.25" y="137.78">40</text><text x="610.75" y="137.78">564</text><text x="666.5" y="137.78">84</text><text x="728" y="137.78">373</text><text x="778" y="137.78">0.88</text><text x="823.5" y="137.78">1.10</text><text x="495.5" y="154.70" font-weight="bold">6</text><text x="556.25" y="155.40">55</text><text x="610.75" y="155.40">563</text><text x="666.5" y="155.40">99</text><text x="728" y="155.40">373</text><text x="778" y="155.40">1.20</text><text x="823.5" y="155.40">1.10</text></g>
<g class="mg" font-size="10.7" font-weight="bold" text-anchor="middle" fill="#000"><text x="267.2" y="462.1">Case 1</text><text x="267.2" y="474.7">4.5 kHz</text><text x="371.85" y="462.1">Case 2</text><text x="371.85" y="474.7">4.5 kHz</text><text x="477.85" y="462.1">Case 3</text><text x="477.85" y="474.7">4.5 kHz</text><text x="583.85" y="462.1">Case 4</text><text x="583.85" y="474.7">4.5 kHz</text><text x="689.85" y="462.1">Case 5</text><text x="689.85" y="474.7">3.5 kHz</text><text x="795.85" y="462.1">Case 6</text><text x="795.85" y="474.7">3.5 kHz</text></g>
<g stroke="#d0d2e8" stroke-width="1.2" fill="none"><path d="M679 188 H735.6 M679 181.5 V194.5 M735.6 181.5 V194.5"/></g><text x="707.2" y="184.2" font-size="12.8" text-anchor="middle" fill="#d0d2e8" class="mg" textLength="35.5" lengthAdjust="spacing">10mm</text><g stroke="#d0d2e8" stroke-width="1.2" fill="none"><path d="M781 187.8 H841.2 M781 181.3 V194.3 M841.2 181.3 V194.3"/></g><text x="811.6" y="184" font-size="13" text-anchor="middle" fill="#d0d2e8" class="mg" textLength="45" lengthAdjust="spacing">L/D=50</text>
<g class="ar" stroke="#222" stroke-width="0.15"><rect x="32.3" y="168" width="179.2" height="273.9" fill="#fff"/><path d="M47.5 213.65 v-3.1 M47.5 168 v2.48 M66.15 213.65 v-1.8 M66.15 168 v1.44 M84.8 213.65 v-3.1 M84.8 168 v2.48 M103.45 213.65 v-1.8 M103.45 168 v1.44 M122.1 213.65 v-3.1 M122.1 168 v2.48 M140.75 213.65 v-1.8 M140.75 168 v1.44 M159.4 213.65 v-3.1 M159.4 168 v2.48 M178.05 213.65 v-1.8 M178.05 168 v1.44 M196.7 213.65 v-3.1 M196.7 168 v2.48 M32.3 208.3 h2.6 M211.5 208.3 h-2.6 M32.3 201.05 h1.6 M211.5 201.05 h-1.6 M32.3 193.8 h2.6 M211.5 193.8 h-2.6 M32.3 186.55 h1.6 M211.5 186.55 h-1.6 M32.3 179.3 h2.6 M211.5 179.3 h-2.6 M32.3 172.05 h1.6 M211.5 172.05 h-1.6 " stroke="#222" stroke-width="0.8" fill="none"/><path d="M51.1 172.3 L52.3 179.9 L54.1 186.8 L55.7 192.4 L57.7 196.4 L60.9 199.0 L65.0 201.1 L69.9 202.5 L73.0 203.2 L76.6 202.2 L78.8 199.6 L80.6 197.9 L82.2 199.6 L83.9 202.2 L86.3 204.0 L88.5 204.8 L96.0 205.5 L102.7 205.8 L129.6 206.6 L159.4 206.9 L196.7 207.1" stroke="#929292" stroke-width="0.9" fill="none" stroke-linejoin="round"/><text x="29.6" y="211" font-size="7.6" text-anchor="end" fill="#222">0</text><text x="29.6" y="196.5" font-size="7.6" text-anchor="end" fill="#222">5</text><text x="29.6" y="182" font-size="7.6" text-anchor="end" fill="#222">10</text><rect x="179.4" y="168" width="32.1" height="12.8" fill="#fff" stroke="#777" stroke-width="0.6"/><text x="194.8" y="177.6" font-size="8.6" text-anchor="middle" fill="#111">Case 1</text><path d="M81.25 181.5 V194.4 M78.65 189.4 L81.25 194.4 L83.85 189.4" stroke="#e8641b" stroke-width="0.9" fill="none"/><path d="M47.5 259.3 v-3.1 M66.15 259.3 v-1.8 M84.8 259.3 v-3.1 M103.45 259.3 v-1.8 M122.1 259.3 v-3.1 M140.75 259.3 v-1.8 M159.4 259.3 v-3.1 M178.05 259.3 v-1.8 M196.7 259.3 v-3.1 M32.3 253.95 h2.6 M211.5 253.95 h-2.6 M32.3 246.7 h1.6 M211.5 246.7 h-1.6 M32.3 239.45 h2.6 M211.5 239.45 h-2.6 M32.3 232.2 h1.6 M211.5 232.2 h-1.6 M32.3 224.95 h2.6 M211.5 224.95 h-2.6 M32.3 217.7 h1.6 M211.5 217.7 h-1.6 " stroke="#222" stroke-width="0.8" fill="none"/><path d="M51.2 226.4 L52.7 232.5 L55.0 237.7 L58.7 243.5 L62.4 246.4 L66.2 247.9 L69.9 248.7 L77.3 249.7 L84.8 250.8 L92.3 251.3 L107.2 251.9 L122.1 252.2 L159.4 252.6 L196.7 252.8" stroke="#929292" stroke-width="0.9" fill="none" stroke-linejoin="round"/><text x="29.6" y="256.65" font-size="7.6" text-anchor="end" fill="#222">0</text><text x="29.6" y="242.15" font-size="7.6" text-anchor="end" fill="#222">5</text><text x="29.6" y="227.65" font-size="7.6" text-anchor="end" fill="#222">10</text><rect x="179.4" y="213.65" width="32.1" height="12.8" fill="#fff" stroke="#777" stroke-width="0.6"/><text x="194.8" y="223.25" font-size="8.6" text-anchor="middle" fill="#111">Case 2</text><path d="M47.5 304.95 v-3.1 M66.15 304.95 v-1.8 M84.8 304.95 v-3.1 M103.45 304.95 v-1.8 M122.1 304.95 v-3.1 M140.75 304.95 v-1.8 M159.4 304.95 v-3.1 M178.05 304.95 v-1.8 M196.7 304.95 v-3.1 M32.3 299.6 h2.6 M211.5 299.6 h-2.6 M32.3 292.35 h1.6 M211.5 292.35 h-1.6 M32.3 285.1 h2.6 M211.5 285.1 h-2.6 M32.3 277.85 h1.6 M211.5 277.85 h-1.6 M32.3 270.6 h2.6 M211.5 270.6 h-2.6 M32.3 263.35 h1.6 M211.5 263.35 h-1.6 " stroke="#222" stroke-width="0.8" fill="none"/><path d="M50.6 287.3 L55.0 283.9 L58.3 293.9 L63.2 294.4 L69.1 295.9 L73.3 291.6 L76.6 293.2 L80.6 283.4 L84.8 294.4 L88.5 295.0 L93.0 297.0 L103.5 297.3 L114.6 296.7 L125.1 297.9 L135.9 296.7 L141.5 297.9 L166.9 298.2 L196.7 298.3" stroke="#929292" stroke-width="0.9" fill="none" stroke-linejoin="round"/><text x="29.6" y="302.3" font-size="7.6" text-anchor="end" fill="#222">0</text><text x="29.6" y="287.8" font-size="7.6" text-anchor="end" fill="#222">5</text><text x="29.6" y="273.3" font-size="7.6" text-anchor="end" fill="#222">10</text><rect x="179.4" y="259.3" width="32.1" height="12.8" fill="#fff" stroke="#777" stroke-width="0.6"/><text x="194.8" y="268.9" font-size="8.6" text-anchor="middle" fill="#111">Case 3</text><path d="M82.3 267.3 V279.9 M79.7 274.9 L82.3 279.9 L84.9 274.9" stroke="#e8641b" stroke-width="0.9" fill="none"/><path d="M47.5 350.6 v-3.1 M66.15 350.6 v-1.8 M84.8 350.6 v-3.1 M103.45 350.6 v-1.8 M122.1 350.6 v-3.1 M140.75 350.6 v-1.8 M159.4 350.6 v-3.1 M178.05 350.6 v-1.8 M196.7 350.6 v-3.1 M32.3 345.25 h2.6 M211.5 345.25 h-2.6 M32.3 338 h1.6 M211.5 338 h-1.6 M32.3 330.75 h2.6 M211.5 330.75 h-2.6 M32.3 323.5 h1.6 M211.5 323.5 h-1.6 M32.3 316.25 h2.6 M211.5 316.25 h-2.6 M32.3 309 h1.6 M211.5 309 h-1.6 " stroke="#222" stroke-width="0.8" fill="none"/><path d="M50.6 328.0 L55.5 335.5 L60.0 336.3 L67.5 337.4 L73.1 332.9 L76.8 338.9 L80.6 327.3 L84.4 338.1 L91.5 339.6 L101.2 341.2 L112.4 341.5 L129.6 342.6 L134.8 341.5 L140.8 342.6 L166.9 343.2 L196.7 343.4" stroke="#929292" stroke-width="0.9" fill="none" stroke-linejoin="round"/><text x="29.6" y="347.95" font-size="7.6" text-anchor="end" fill="#222">0</text><text x="29.6" y="333.45" font-size="7.6" text-anchor="end" fill="#222">5</text><text x="29.6" y="318.95" font-size="7.6" text-anchor="end" fill="#222">10</text><rect x="179.4" y="304.95" width="32.1" height="12.8" fill="#fff" stroke="#777" stroke-width="0.6"/><text x="194.8" y="314.55" font-size="8.6" text-anchor="middle" fill="#111">Case 4</text><path d="M81.7 309.25 V322.35 M79.1 317.35 L81.7 322.35 L84.3 317.35" stroke="#e8641b" stroke-width="0.9" fill="none"/><path d="M47.5 396.25 v-3.1 M66.15 396.25 v-1.8 M84.8 396.25 v-3.1 M103.45 396.25 v-1.8 M122.1 396.25 v-3.1 M140.75 396.25 v-1.8 M159.4 396.25 v-3.1 M178.05 396.25 v-1.8 M196.7 396.25 v-3.1 M32.3 390.9 h2.6 M211.5 390.9 h-2.6 M32.3 383.65 h1.6 M211.5 383.65 h-1.6 M32.3 376.4 h2.6 M211.5 376.4 h-2.6 M32.3 369.15 h1.6 M211.5 369.15 h-1.6 M32.3 361.9 h2.6 M211.5 361.9 h-2.6 M32.3 354.65 h1.6 M211.5 354.65 h-1.6 " stroke="#222" stroke-width="0.8" fill="none"/><path d="M50.6 372.1 L54.4 381.6 L59.2 385.4 L69.4 383.7 L73.5 370.0 L77.3 382.2 L80.6 381.6 L85.5 385.4 L90.0 384.5 L93.8 386.4 L96.7 384.9 L100.5 386.8 L103.5 385.4 L108.7 387.1 L116.1 388.0 L149.7 388.6 L196.7 388.6" stroke="#929292" stroke-width="0.9" fill="none" stroke-linejoin="round"/><text x="29.6" y="393.6" font-size="7.6" text-anchor="end" fill="#222">0</text><text x="29.6" y="379.1" font-size="7.6" text-anchor="end" fill="#222">5</text><text x="29.6" y="364.6" font-size="7.6" text-anchor="end" fill="#222">10</text><rect x="179.4" y="350.6" width="32.1" height="12.8" fill="#fff" stroke="#777" stroke-width="0.6"/><text x="194.8" y="360.2" font-size="8.6" text-anchor="middle" fill="#111">Case 5</text><path d="M73.5 352.3 V365.4 M70.9 360.4 L73.5 365.4 L76.1 360.4" stroke="#e8641b" stroke-width="0.9" fill="none"/><path d="M47.5 441.9 v-3.1 M66.15 441.9 v-1.8 M84.8 441.9 v-3.1 M103.45 441.9 v-1.8 M122.1 441.9 v-3.1 M140.75 441.9 v-1.8 M159.4 441.9 v-3.1 M178.05 441.9 v-1.8 M196.7 441.9 v-3.1 M32.3 436.55 h2.6 M211.5 436.55 h-2.6 M32.3 429.3 h1.6 M211.5 429.3 h-1.6 M32.3 422.05 h2.6 M211.5 422.05 h-2.6 M32.3 414.8 h1.6 M211.5 414.8 h-1.6 M32.3 407.55 h2.6 M211.5 407.55 h-2.6 M32.3 400.3 h1.6 M211.5 400.3 h-1.6 " stroke="#222" stroke-width="0.8" fill="none"/><path d="M50.6 422.3 L55.5 429.1 L58.7 429.9 L61.7 432.2 L69.1 431.3 L73.5 420.9 L77.3 427.3 L80.6 429.1 L85.5 432.5 L97.5 432.5 L112.4 433.9 L151.9 434.5 L196.7 434.8" stroke="#929292" stroke-width="0.9" fill="none" stroke-linejoin="round"/><text x="29.6" y="439.25" font-size="7.6" text-anchor="end" fill="#222">0</text><text x="29.6" y="424.75" font-size="7.6" text-anchor="end" fill="#222">5</text><text x="29.6" y="410.25" font-size="7.6" text-anchor="end" fill="#222">10</text><rect x="179.4" y="396.25" width="32.1" height="12.8" fill="#fff" stroke="#777" stroke-width="0.6"/><text x="194.8" y="405.85" font-size="8.6" text-anchor="middle" fill="#111">Case 6</text><path d="M73.5 405.85 V418.95 M70.9 413.95 L73.5 418.95 L76.1 413.95" stroke="#e8641b" stroke-width="0.9" fill="none"/><path d="M32.3 168 H211.5 M32.3 213.65 H211.5 M32.3 259.3 H211.5 M32.3 304.95 H211.5 M32.3 350.6 H211.5 M32.3 396.25 H211.5 M32.3 441.9 H211.5 M32.3 168 V441.9 M211.5 168 V441.9" stroke="#3a3a3a" stroke-width="1" fill="none"/><text x="47.5" y="451" font-size="7.6" text-anchor="middle" fill="#222">0.0</text><text x="84.8" y="451" font-size="7.6" text-anchor="middle" fill="#222">5.0</text><text x="122.1" y="451" font-size="7.6" text-anchor="middle" fill="#222">10.0</text><text x="159.4" y="451" font-size="7.6" text-anchor="middle" fill="#222">15.0</text><text x="196.7" y="451" font-size="7.6" text-anchor="middle" fill="#222">20.0</text><text x="121.9" y="465.4" font-size="9.1" text-anchor="middle" fill="#222">Frequency [kHz]</text><text transform="translate(14.6 323) rotate(-90)" font-size="9.15" text-anchor="middle" fill="#222">DMD Amplitude [a.u.]</text></g>

</svg>
</body></html>
